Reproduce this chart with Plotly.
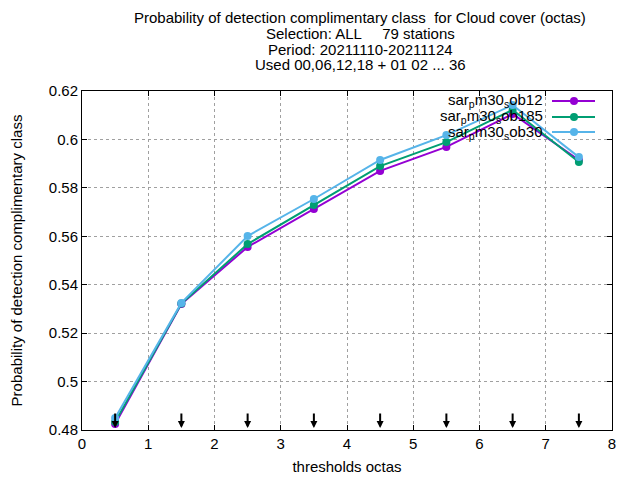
import plotly.graph_objects as go

# thresholds (octas) and probability of detection per experiment
thresholds = [0.5, 1.5, 2.5, 3.5, 4.5, 5.5, 6.5, 7.5]
ob12 = [0.4825, 0.5320, 0.5556, 0.5713, 0.5870, 0.5969, 0.6105, 0.5915]
ob185 = [0.4833, 0.5322, 0.5568, 0.5729, 0.5890, 0.5989, 0.6122, 0.5907]
ob30 = [0.4850, 0.5325, 0.5601, 0.5754, 0.5915, 0.6018, 0.6142, 0.5927]

names = ["sar<sub>p</sub>m30<sub>s</sub>ob12",
         "sar<sub>p</sub>m30<sub>s</sub>ob185",
         "sar<sub>p</sub>m30<sub>s</sub>ob30"]
colors = ["#9400D3", "#009E73", "#56B4E9"]
series = [ob12, ob185, ob30]

title_lines = ["Probability of detection complimentary class  for Cloud cover (octas)",
               "Selection: ALL     79 stations",
               "Period: 20211110-20211124",
               "Used 00,06,12,18 + 01 02 ... 36"]

FONT = "Liberation Sans, Arial, sans-serif"

# page has an 8px body margin, so work in shifted pixel coords
OFF = 8
L, R, T, B = 82 - OFF, 612 - OFF, 91 - OFF, 430 - OFF


def px(x):
    return (x - OFF - L) / (R - L)


def py(y):
    return (B - (y - OFF)) / (B - T)


fig = go.Figure()
for s, c, n in zip(series, colors, names):
    fig.add_trace(go.Scatter(
        x=thresholds, y=s, name=n, mode="lines+markers",
        line=dict(color=c, width=2),
        marker=dict(color=c, size=8, symbol="circle"),
        showlegend=False
    ))

annos = []
# little arrows at each threshold near the bottom
for xv in thresholds:
    annos.append(dict(x=xv, y=0.4808, xref="x", yref="y", ax=0, ay=-16,
                      showarrow=True, arrowhead=2, arrowsize=0.7,
                      arrowwidth=2, arrowcolor="black", text=""))

# title lines
for i, t in enumerate(title_lines):
    annos.append(dict(x=px(360), y=py(18 + i * 15.5), xref="paper", yref="paper",
                      xanchor="center", yanchor="middle", showarrow=False,
                      text=t, font=dict(family=FONT, size=15, color="black")))

# gnuplot-style key (text on the left, sample on the right)
key_rows = [101, 117, 132]
shapes = []
for n, c, ky in zip(names, colors, key_rows):
    yp = py(ky)
    annos.append(dict(x=px(545), y=yp, xref="paper", yref="paper",
                      xanchor="right", yanchor="middle", showarrow=False,
                      text=n, font=dict(family=FONT, size=15, color="black")))
    shapes.append(dict(type="line", xref="paper", yref="paper",
                       x0=px(552), x1=px(595), y0=yp, y1=yp,
                       line=dict(color=c, width=2)))
    shapes.append(dict(type="circle", xref="paper", yref="paper",
                       x0=px(570), x1=px(578),
                       y0=py(ky + 4), y1=py(ky - 4),
                       fillcolor=c, line=dict(color=c, width=0)))

fig.update_layout(
    width=640, height=480,
    margin=dict(l=L, r=640 - R, t=T, b=480 - B),
    paper_bgcolor="white", plot_bgcolor="white",
    font=dict(family=FONT, size=15, color="black"),
    annotations=annos, shapes=shapes,
)
fig.update_xaxes(
    range=[0, 8], dtick=1, tick0=0, automargin=False,
    title=dict(text="thresholds octas", standoff=10, font=dict(size=15)),
    showgrid=True, gridcolor="#a0a0a0", griddash="dot", gridwidth=1,
    showline=True, linecolor="black", linewidth=1, mirror="ticks",
    ticks="inside", ticklen=5, tickcolor="black", zeroline=False,
)
fig.update_yaxes(
    range=[0.48, 0.62], dtick=0.02, tick0=0.48, automargin=False,
    title=dict(text="Probability of detection complimentary class", standoff=26,
               font=dict(size=15)),
    showgrid=True, gridcolor="#a0a0a0", griddash="dot", gridwidth=1,
    showline=True, linecolor="black", linewidth=1, mirror="ticks",
    ticks="inside", ticklen=5, tickcolor="black", zeroline=False,
    tickformat="~g",
)

fig.write_html("out.html")
